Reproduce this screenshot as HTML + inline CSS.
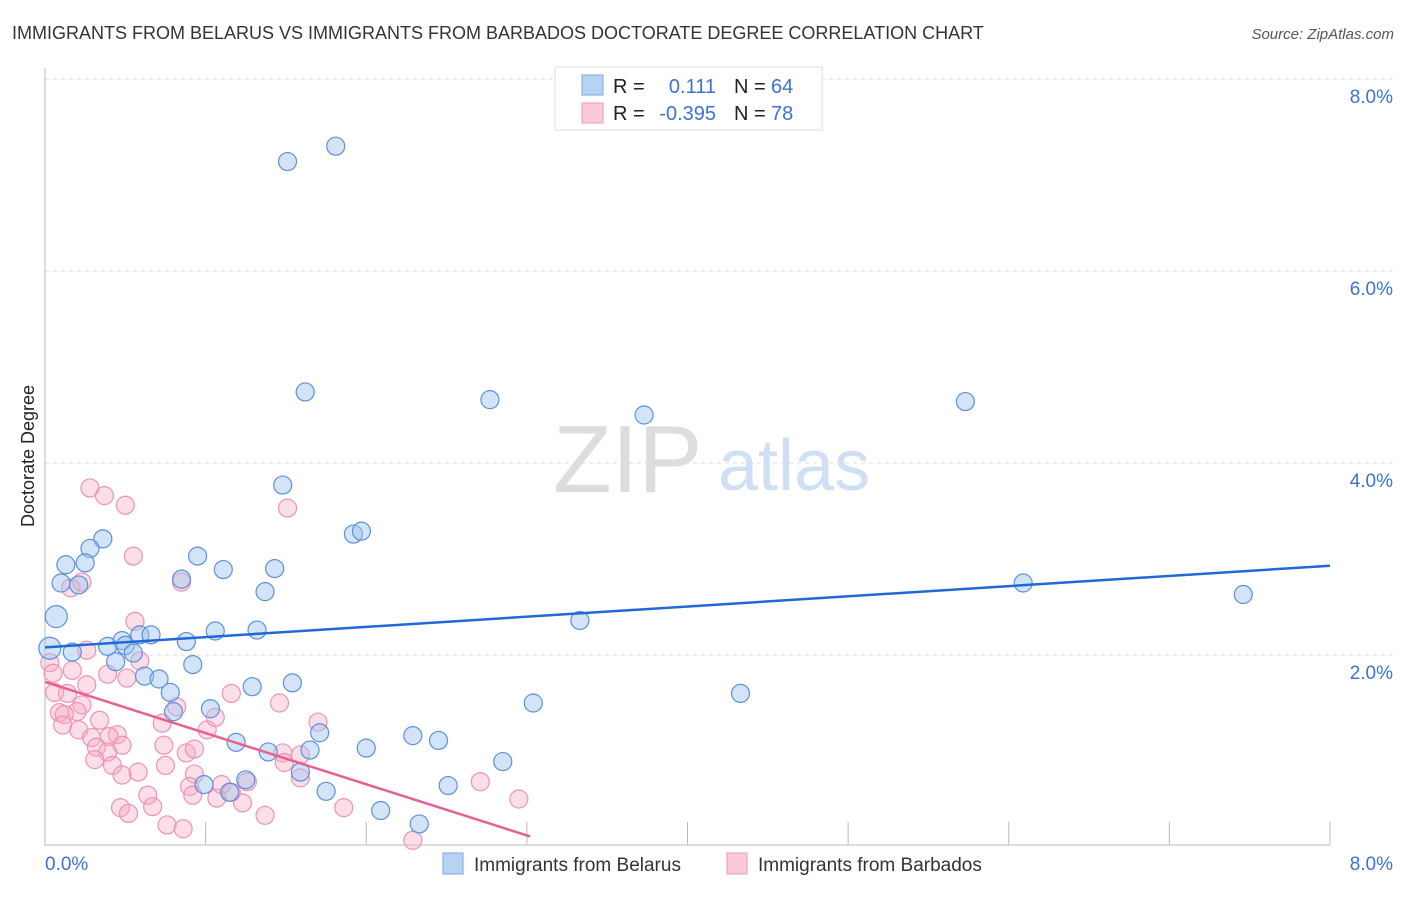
<!DOCTYPE html>
<html><head><meta charset="utf-8"><style>
body{margin:0;background:#fff;font-family:"Liberation Sans",sans-serif}
svg text{font-family:"Liberation Sans",sans-serif}
</style></head><body>
<svg id="c" width="1406" height="892">
<text x="12" y="39" font-size="18" fill="#333">IMMIGRANTS FROM BELARUS VS IMMIGRANTS FROM BARBADOS DOCTORATE DEGREE CORRELATION CHART</text>
<text x="1394" y="39" font-size="15" fill="#555" font-style="italic" text-anchor="end">Source: ZipAtlas.com</text>
<text x="553" y="492" font-size="96" fill="#ddd" font-family="Liberation Serif">ZIP</text>
<text x="718" y="490" font-size="72" fill="#cfe0f5">atlas</text>
<text transform="translate(34,456) rotate(-90)" font-size="18" fill="#222" text-anchor="middle">Doctorate Degree</text>
<g id="grid"></g><g id="pts"></g><g id="lines"></g>
<g>
<rect x="555" y="67" width="267" height="63" fill="#fff" stroke="#ddd"/>
<rect x="582" y="75" width="21" height="20" fill="#b8d2f3" stroke="#7aa7e3"/>
<rect x="582" y="103" width="21" height="20" fill="#fcc9d8" stroke="#f09ab6"/>
<text x="613" y="93" font-size="20" fill="#222">R =</text><text x="716" y="93" font-size="20" fill="#3b73d1" text-anchor="end">0.111</text>
<text x="734" y="93" font-size="20" fill="#222">N =</text><text x="771" y="93" font-size="20" fill="#3b73d1">64</text>
<text x="613" y="120" font-size="20" fill="#222">R =</text><text x="716" y="120" font-size="20" fill="#3b73d1" text-anchor="end">-0.395</text>
<text x="734" y="120" font-size="20" fill="#222">N =</text><text x="771" y="120" font-size="20" fill="#3b73d1">78</text>
</g>
<g>
<rect x="443" y="853" width="20" height="21" fill="#b8d2f3" stroke="#7aa7e3"/>
<text x="474" y="871" font-size="19" fill="#333">Immigrants from Belarus</text>
<rect x="727" y="853" width="20" height="21" fill="#fcc9d8" stroke="#f09ab6"/>
<text x="758" y="871" font-size="19" fill="#333">Immigrants from Barbados</text>
</g>
</svg>
<script>
const yTicks=[2,4,6,8];
const xTickLabels=["0.0%","8.0%"];
const blueX=[1.51,1.81,1.62,2.77,3.73,5.73,1.48,1.92,1.97,0.36,0.28,0.25,0.13,0.95,1.11,1.43,0.85,1.37,0.10,0.21,0.07,6.09,7.46,3.33,1.06,1.32,0.59,0.66,0.48,0.88,0.39,0.50,0.03,0.17,0.55,0.44,0.92,0.62,0.71,1.29,1.54,0.78,4.33,3.04,1.03,0.80,1.71,1.19,2.29,2.45,2.00,1.39,1.65,2.85,1.59,2.51,1.75,1.15,0.99,2.09,2.33,1.25];
const blueY=[7.14,7.30,4.74,4.66,4.50,4.64,3.77,3.26,3.29,3.21,3.11,2.96,2.94,3.03,2.89,2.90,2.79,2.66,2.75,2.73,2.40,2.75,2.63,2.36,2.25,2.26,2.21,2.21,2.15,2.14,2.09,2.10,2.07,2.03,2.02,1.93,1.90,1.78,1.75,1.67,1.71,1.61,1.60,1.50,1.44,1.41,1.19,1.09,1.16,1.11,1.03,0.99,1.01,0.89,0.78,0.64,0.58,0.57,0.65,0.38,0.24,0.70];
const pinkX=[0.28,0.37,0.50,1.51,0.55,0.16,0.23,0.85,0.56,0.26,0.03,0.17,0.05,0.39,0.51,0.59,0.26,0.06,0.14,0.23,0.09,0.20,0.12,0.11,0.21,0.34,0.45,0.40,0.29,0.32,0.39,0.48,0.31,0.42,0.48,0.58,0.64,0.67,0.47,0.52,0.76,0.86,0.73,0.74,0.75,0.88,0.93,0.93,0.90,0.92,1.07,1.10,1.23,1.16,1.26,1.01,1.06,0.82,1.16,1.46,1.37,1.48,1.49,1.59,1.59,1.70,1.86,2.71,2.95,2.29];
const pinkY=[3.74,3.66,3.56,3.53,3.03,2.70,2.76,2.76,2.35,2.05,1.92,1.84,1.81,1.80,1.76,1.94,1.69,1.61,1.60,1.48,1.40,1.41,1.38,1.27,1.22,1.32,1.17,1.15,1.14,1.04,0.99,1.06,0.91,0.85,0.75,0.78,0.54,0.42,0.41,0.35,0.23,0.19,1.29,1.06,0.85,0.98,1.02,0.76,0.63,0.54,0.51,0.65,0.46,0.57,0.68,1.22,1.35,1.46,1.60,1.50,0.33,0.98,0.88,0.96,0.72,1.30,0.41,0.68,0.50,0.07];
const blueLine=[[0,2.08],[8,2.93]];
const pinkLine=[[0,1.72],[3.02,0.11]];
const X0=45,X1=1330,Y0=847,Y1=79;
const sx=v=>X0+(X1-X0)*v/8, sy=v=>Y0-(Y0-Y1)*v/8;
const NS="http://www.w3.org/2000/svg";
function mk(tag,attrs,parent){const e=document.createElementNS(NS,tag);for(const k in attrs)e.setAttribute(k,attrs[k]);parent.appendChild(e);return e;}
const grid=document.getElementById('grid');
yTicks.forEach(t=>{
 const l=mk('line',{x1:X0,x2:1395,y1:sy(t),y2:sy(t),stroke:'#ddd','stroke-dasharray':'4,4'},grid);
 
 
 const tx=mk('text',{x:1393,y:sy(t)+24,'font-size':19,fill:'#3b73d1','text-anchor':'end'},grid);
 tx.textContent=t.toFixed(1)+'%';
 
 
});
const ax=mk('path',{d:`M${X0},68V845H${X1}`,stroke:'#bbb',fill:'none'},grid);


for(let i=1;i<=8;i++){
 const t=mk('line',{x1:sx(i),x2:sx(i),y1:822,y2:845,stroke:'#bbb'},grid);
 
 
}
const xl0=mk('text',{x:45,y:870,'font-size':19,fill:'#3b73d1'},grid);xl0.textContent=xTickLabels[0];


const xl1=mk('text',{x:1393,y:870,'font-size':19,fill:'#3b73d1','text-anchor':'end'},grid);xl1.textContent=xTickLabels[1];


const pts=document.getElementById('pts');
pinkX.forEach((v,i)=>{
 const c=mk('circle',{cx:sx(v),cy:sy(pinkY[i]),r:9,fill:'rgba(246,172,196,0.4)',stroke:'#ee93b1','stroke-width':1.2},pts);
 
 
});
blueX.forEach((v,i)=>{
 const c=mk('circle',{cx:sx(v),cy:sy(blueY[i]),r:(i==20||i==32)?11:9,fill:'rgba(160,196,240,0.45)',stroke:'#5a90dc','stroke-width':1.2},pts);
 
 
});
const lines=document.getElementById('lines');
const bl=mk('line',{x1:sx(blueLine[0][0]),y1:sy(blueLine[0][1]),x2:sx(blueLine[1][0]),y2:sy(blueLine[1][1]),stroke:'#1f6ad6','stroke-width':2.5},lines);


const pl=mk('line',{x1:sx(pinkLine[0][0]),y1:sy(pinkLine[0][1]),x2:sx(pinkLine[1][0]),y2:sy(pinkLine[1][1]),stroke:'#e8608e','stroke-width':2.5},lines);


</script>
</body></html>
